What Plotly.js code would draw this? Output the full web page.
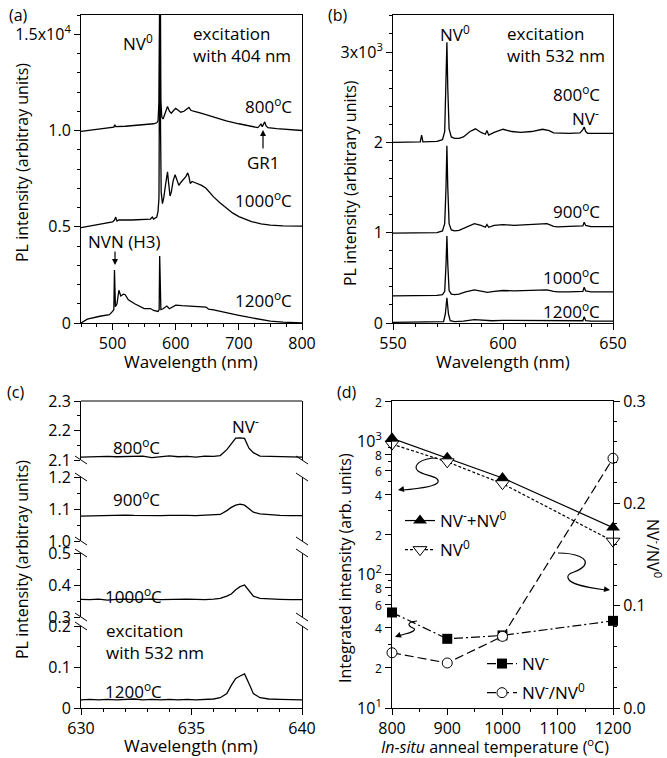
<!DOCTYPE html>
<html><head><meta charset="utf-8">
<script src="https://cdn.plot.ly/plotly-3.0.1.min.js"></script>
<style>html,body{margin:0;padding:0;background:#fff;}</style>
</head><body><div id="chart" style="width:667px;height:758px;"></div>
<script>
// ---------- Panel (a): PL spectra, 404 nm excitation (units of 1e4) ----------
const a800_x = [450,470,490,502,503.5,505,520,540,555,565,570,572,573.5,574.5,575,575.5,576.5,578,580,582,585,587,590,593,597,600,604,608,613,618,621,624,628,640,660,680,700,720,730,733,735,737,739,741,743,746,760,780,800];
const a800_y = [0.995,1.003,1.012,1.018,1.03,1.02,1.022,1.027,1.031,1.035,1.04,1.05,1.15,1.9,1.95,1.9,1.15,1.07,1.06,1.08,1.115,1.125,1.10,1.09,1.105,1.115,1.105,1.095,1.10,1.115,1.12,1.105,1.10,1.09,1.068,1.05,1.035,1.02,1.015,1.025,1.035,1.02,1.03,1.045,1.025,1.015,1.01,1.005,1.0];
const a1000_x = [450,480,500,503,505,507,510,530,560,563,565,570,572,573.5,574.5,575,576,577,579,581,584,587,589,591,593,596,599,602,605,608,612,616,619,621,623,626,630,635,641,648,652,660,670,680,690,700,710,720,735,750,770,800];
const a1000_y = [0.495,0.515,0.525,0.535,0.55,0.53,0.535,0.535,0.54,0.55,0.54,0.55,0.58,0.65,1.2,1.9,1.0,0.68,0.62,0.65,0.72,0.785,0.72,0.66,0.68,0.74,0.77,0.74,0.715,0.73,0.745,0.76,0.78,0.76,0.725,0.735,0.73,0.725,0.715,0.70,0.685,0.655,0.625,0.597,0.572,0.553,0.538,0.527,0.515,0.508,0.505,0.503];
const a1200_x = [450,460,480,495,500,502,503,503.6,504.5,507,510,513,517,520,525,535,545,550,560,565,572,573.8,574.6,575.4,576.5,580,583,586,590,595,600,610,620,630,640,648,650,652,660,670,680,700,715,730,750,770,800];
const a1200_y = [0.0,0.02,0.035,0.043,0.06,0.07,0.275,0.09,0.085,0.1,0.17,0.14,0.15,0.147,0.12,0.1,0.083,0.075,0.075,0.065,0.06,0.07,0.348,0.09,0.07,0.074,0.08,0.088,0.074,0.085,0.093,0.09,0.088,0.087,0.085,0.082,0.078,0.072,0.068,0.062,0.055,0.04,0.03,0.02,0.01,0.005,0.0];
const a_yticks = [0, 0.5, 1.0, 1.5];
const a_yticktext = ['0','0.5','1.0','1.5x10<sup>4</sup>'];

// ---------- Panel (b): PL spectra, 532 nm excitation (units of 1e3) ----------
const b800_x = [550,560,562.4,563,563.6,570,572.5,573.5,574.1,574.5,574.9,575.5,576.5,578,580,582,585,587.5,590,592,592.7,593.5,596,600,604,608,613,618,621,623,630,635,636.3,636.9,637.6,638.5,650];
const b800_y = [2.0,2.0,2.005,2.08,2.005,2.01,2.03,2.12,2.6,3.107,2.6,2.15,2.06,2.045,2.045,2.06,2.12,2.15,2.11,2.09,2.13,2.08,2.11,2.145,2.12,2.11,2.12,2.145,2.13,2.105,2.1,2.105,2.14,2.17,2.12,2.1,2.1];
const b900_x = [550,560,570,572.5,573.5,574.1,574.5,574.9,575.5,576.5,578,580,583,587,590,592,592.7,593.5,596,600,605,610,615,620,623,625,630,636.3,636.9,637.6,640,650];
const b900_y = [0.995,0.998,1.0,1.02,1.1,1.5,1.963,1.5,1.1,1.03,1.02,1.025,1.06,1.1,1.08,1.06,1.09,1.06,1.08,1.09,1.08,1.085,1.09,1.1,1.07,1.065,1.07,1.075,1.115,1.08,1.068,1.066];
const b1000_x = [550,560,570,572.5,573.5,574.1,574.5,574.9,575.5,576.5,578,580,583,587,590,592,593,596,600,605,610,615,620,623,625,630,636.3,636.9,637.6,640,650];
const b1000_y = [0.3,0.302,0.305,0.315,0.35,0.65,0.963,0.65,0.36,0.32,0.315,0.32,0.345,0.367,0.355,0.345,0.34,0.35,0.36,0.355,0.36,0.362,0.367,0.35,0.345,0.345,0.35,0.395,0.355,0.345,0.345];
const b1200_x = [550,560,570,573,573.8,574.5,575.2,576,578,582,587,590,595,600,610,620,625,630,636.3,636.9,637.6,640,650];
const b1200_y = [0.008,0.008,0.01,0.015,0.1,0.28,0.1,0.025,0.015,0.02,0.037,0.03,0.025,0.03,0.028,0.03,0.022,0.02,0.025,0.07,0.025,0.02,0.02];
const b_yticks = [0,1,2,3];
const b_yticktext = ['0','1','2','3x10<sup>3</sup>'];

// ---------- Panel (c): NV- zero-phonon line ----------
const c_wl = [630,630.4,630.8,631.2,631.6,632,632.4,632.8,633.2,633.6,634,634.4,634.8,635.2,635.6,636,636.3,636.6,636.8,637,637.2,637.4,637.6,637.8,638.1,638.5,639,639.5,640];
const c800 = [2.11,2.111,2.11,2.112,2.111,2.112,2.111,2.113,2.108,2.112,2.114,2.111,2.112,2.11,2.113,2.112,2.115,2.135,2.155,2.174,2.175,2.173,2.14,2.125,2.113,2.112,2.111,2.111,2.11];
const c900 = [1.078,1.079,1.08,1.081,1.082,1.081,1.08,1.079,1.08,1.079,1.08,1.081,1.08,1.079,1.08,1.08,1.083,1.095,1.105,1.112,1.115,1.112,1.1,1.09,1.085,1.082,1.08,1.079,1.079];
const c1000 = [0.355,0.354,0.356,0.353,0.355,0.356,0.354,0.355,0.356,0.354,0.355,0.355,0.356,0.355,0.354,0.356,0.358,0.365,0.372,0.385,0.395,0.4,0.382,0.365,0.358,0.356,0.355,0.354,0.354];
const c1200 = [0.02,0.021,0.02,0.021,0.02,0.021,0.022,0.02,0.021,0.02,0.021,0.02,0.021,0.02,0.021,0.022,0.025,0.035,0.055,0.072,0.078,0.083,0.06,0.035,0.025,0.022,0.021,0.02,0.02];
const c_seg1_ticks = [2.1,2.2,2.3], c_seg1_text = ['2.1','2.2','2.3'];
const c_seg2_ticks = [1.0,1.1,1.2], c_seg2_text = ['1.0','1.1','1.2'];
const c_seg3_ticks = [0.3,0.4,0.5], c_seg3_text = ['0.3','0.4','0.5'];
const c_seg4_ticks = [0,0.1,0.2],   c_seg4_text = ['0','0.1','0.2'];

// ---------- Panel (d): integrated intensities vs anneal temperature ----------
const temps = [800,900,1000,1200];
const nvSum = [1050,750,530,225];
const nv0 = [950,700,480,178];
const nvMinus = [52,33,35,45];
const ratio = [0.054,0.044,0.070,0.244];
const d_ytickvals = [10,20,40,60,80,100,200,400,600,800,1000,2000];
const sm = s => '<span style="font-size:12px">'+s+'</span>';
const d_ytext = ['10<sup>1</sup>',sm('2'),sm('4'),sm('6'),sm('8'),'10<sup>2</sup>',sm('2'),sm('4'),sm('6'),sm('8'),'10<sup>3</sup>',sm('2')];
const d_yminor = [30,50,70,90,300,500,700,900];

// ---------- helpers (pixel -> paper) ----------
const W = 667, H = 758;
const fx = p => p / W, fy = p => 1 - p / H;
const pth = s => s.replace(/(-?\d+\.?\d*),(-?\d+\.?\d*)/g, (m,a,b) => fx(+a).toFixed(5)+','+fy(+b).toFixed(5));
const FONT = 'Open Sans, Noto Sans, sans-serif';
const TF = 16, AF = 17;
const ln = {color:'black', width:1.3};

const traces = [];
const spec = (x,y,xa,ya) => traces.push({type:'scatter', mode:'lines', x:x, y:y, xaxis:xa, yaxis:ya, line:ln, showlegend:false, hoverinfo:'skip'});
spec(a800_x,a800_y,'x','y'); spec(a1000_x,a1000_y,'x','y'); spec(a1200_x,a1200_y,'x','y');
spec(b800_x,b800_y,'x2','y2'); spec(b900_x,b900_y,'x2','y2'); spec(b1000_x,b1000_y,'x2','y2'); spec(b1200_x,b1200_y,'x2','y2');
spec(c_wl,c1200,'x3','y3'); spec(c_wl,c1000,'x3','y4'); spec(c_wl,c900,'x3','y5'); spec(c_wl,c800,'x3','y6');

traces.push({type:'scatter', mode:'lines+markers', x:temps, y:nvSum, xaxis:'x4', yaxis:'y7', name:'NV<sup>-</sup>+NV<sup>0</sup>', legend:'legend', legendgroup:'g1',
  line:{color:'black', width:1.2}, marker:{symbol:'triangle-up', size:12, color:'black'}, cliponaxis:false});
traces.push({type:'scatter', mode:'lines+markers', x:temps, y:nv0, xaxis:'x4', yaxis:'y7', name:'NV<sup>0</sup>', legend:'legend', legendgroup:'g2',
  line:{color:'black', width:1.2, dash:'3px,2px'}, marker:{symbol:'triangle-down', size:12, color:'white', line:{color:'black', width:1}}, cliponaxis:false});
traces.push({type:'scatter', mode:'lines+markers', x:temps, y:nvMinus, xaxis:'x4', yaxis:'y7', name:'NV<sup>-</sup>', legend:'legend2', legendgroup:'g3',
  line:{color:'black', width:1.2, dash:'9px,3px,2px,3px'}, marker:{symbol:'square', size:10, color:'black'}, cliponaxis:false});
traces.push({type:'scatter', mode:'lines+markers', x:temps, y:ratio, xaxis:'x4', yaxis:'y8', name:'NV<sup>-</sup>/NV<sup>0</sup>', legend:'legend2', legendgroup:'g4',
  line:{color:'black', width:1.2, dash:'9px,4px'}, marker:{symbol:'circle', size:10, color:'white', line:{color:'black', width:1}}, cliponaxis:false});

const base = {showline:true, linecolor:'black', linewidth:1, ticks:'outside', ticklen:6, tickwidth:1, tickcolor:'black',
  showgrid:false, zeroline:false, tickfont:{family:FONT, size:TF, color:'black'}, fixedrange:true};
const mn = (d) => ({dtick:d, ticks:'outside', ticklen:3, tickwidth:1, tickcolor:'black', showgrid:false});

const layout = {
  width:W, height:H, margin:{l:0,r:0,t:0,b:0}, paper_bgcolor:'white', plot_bgcolor:'rgba(0,0,0,0)',
  font:{family:FONT, size:TF, color:'black'}, showlegend:true,
  xaxis: Object.assign({}, base, {domain:[fx(81),fx(302)], range:[450,800], dtick:100, tick0:0, minor:mn(25), anchor:'y', mirror:true}),
  yaxis: Object.assign({}, base, {domain:[fy(323),fy(15)], range:[0,1.6], tickvals:a_yticks, ticktext:a_yticktext, minor:mn(0.1), anchor:'x', mirror:true}),
  xaxis2: Object.assign({}, base, {domain:[fx(393),fx(613)], range:[550,650], dtick:50, tick0:0, minor:mn(10), anchor:'y2', mirror:true}),
  yaxis2: Object.assign({}, base, {domain:[fy(323),fy(15)], range:[0,3.41], tickvals:b_yticks, ticktext:b_yticktext, minor:mn(0.2), anchor:'x2', mirror:true}),
  xaxis3: Object.assign({}, base, {domain:[fx(81),fx(302)], range:[630,640], dtick:5, tick0:0, minor:mn(1), anchor:'y3', mirror:false}),
  yaxis3: Object.assign({}, base, {domain:[fy(708),fy(626)], range:[0,0.2], tickvals:c_seg4_ticks, ticktext:c_seg4_text, minor:mn(0.05), anchor:'x3', mirror:true}),
  yaxis4: Object.assign({}, base, {domain:[fy(617),fy(553)], range:[0.3,0.5], tickvals:c_seg3_ticks, ticktext:c_seg3_text, minor:mn(0.05), anchor:'x3', mirror:true}),
  yaxis5: Object.assign({}, base, {domain:[fy(541),fy(477)], range:[1.0,1.2], tickvals:c_seg2_ticks, ticktext:c_seg2_text, minor:mn(0.05), anchor:'x3', mirror:true}),
  yaxis6: Object.assign({}, base, {domain:[fy(460),fy(401)], range:[2.1,2.3], tickvals:c_seg1_ticks, ticktext:c_seg1_text, minor:mn(0.05), anchor:'x3', mirror:true}),
  xaxis4: Object.assign({}, base, {domain:[fx(392),fx(613)], range:[800,1200], dtick:100, tick0:0, minor:mn(50), anchor:'y7', mirror:true}),
  yaxis7: Object.assign({}, base, {domain:[fy(708),fy(401)], type:'log', range:[1,Math.log10(2000)], tickvals:d_ytickvals, ticktext:d_ytext,
     minor:{tickvals:d_yminor, ticks:'outside', ticklen:3, tickwidth:1, tickcolor:'black', showgrid:false}, anchor:'x4', mirror:false}),
  yaxis8: Object.assign({}, base, {domain:[fy(708),fy(401)], range:[0,0.3], dtick:0.1, tick0:0, tickformat:'.1f', minor:mn(0.02),
     anchor:'x4', overlaying:'y7', side:'right', mirror:false}),
  legend: {x:fx(400), y:fy(503), xanchor:'left', yanchor:'top', bgcolor:'rgba(0,0,0,0)', font:{family:FONT, size:AF, color:'black'}, tracegroupgap:4, traceorder:'grouped'},
  legend2: {x:fx(482), y:fy(646), xanchor:'left', yanchor:'top', bgcolor:'rgba(0,0,0,0)', font:{family:FONT, size:AF, color:'black'}, tracegroupgap:4, traceorder:'grouped'},
  shapes: [], annotations: []
};

// top border for broken-axis panel (c) and break marks
const S = layout.shapes;
const seg = (x0,y0,x1,y1) => S.push({type:'line', xref:'paper', yref:'paper', x0:fx(x0), y0:fy(y0), x1:fx(x1), y1:fy(y1), line:{color:'black', width:1}});
seg(81,401,302,401);
[460,477,541,553,617,626].forEach(y => { seg(75,y-4,87,y+4); seg(296,y-4,308,y+4); });

// curvy arrows in (d)
const curve = s => S.push({type:'path', xref:'paper', yref:'paper', path:pth(s), line:{color:'black', width:1.2}});
curve('M437,458 C420,458 412,466 418,471 C424,476 440,476 438,482 C436,487 415,489 402,490');
curve('M417,621 C406,622 408,626 413,628 C418,630 410,633 405,634 L398,636');
curve('M558,553 C575,553 590,558 584,566 C578,573 566,572 568,578 C570,585 590,588 606,590');

const A = layout.annotations;
const txt = (t,x,y,opt) => A.push(Object.assign({text:t, x:fx(x), y:fy(y), xref:'paper', yref:'paper', xanchor:'center', yanchor:'middle', showarrow:false, font:{family:FONT, size:AF, color:'black'}}, opt||{}));
const arr = (x,y,ax,ay) => A.push({text:'', x:fx(x), y:fy(y), xref:'paper', yref:'paper', showarrow:true, ax:ax, ay:ay, arrowhead:2, arrowsize:1, arrowwidth:1.2, arrowcolor:'black', standoff:0});
const yt = {family:FONT, size:16, color:'black'};

// panel labels
txt('(a)',18,15,{font:yt}); txt('(b)',338,15,{font:yt}); txt('(c)',15,392,{font:yt}); txt('(d)',347,392,{font:yt});
// axis titles
txt('PL intensity (arbitray units)',22,163,{textangle:-90, font:yt});
txt('PL intensity (arbitrary units)',350,183,{textangle:-90, font:yt});
txt('PL intensity (arbitray units)',22,560,{textangle:-90, font:yt});
txt('Integrated intensity (arb. units)',345,568,{textangle:-90, font:yt});
txt('NV<sup>-</sup>/NV<sup>0</sup>',654,548,{textangle:90, font:yt});
txt('Wavelength (nm)',191,361); txt('Wavelength (nm)',503,361); txt('Wavelength (nm)',191,745);
txt('<i>In-situ</i> anneal temperature (<sup>o</sup>C)',495,746,{font:{family:FONT, size:16, color:'black'}});
// (a)
txt('NV<sup>0</sup>',138,42);
txt('excitation<br>with 404 nm',191,44,{xanchor:'left', align:'left'});
txt('800<sup>o</sup>C',294,106,{xanchor:'right'});
txt('GR1',263,163);
txt('1000<sup>o</sup>C',294,199,{xanchor:'right'});
txt('NVN (H3)',124,241);
txt('1200<sup>o</sup>C',294,299,{xanchor:'right'});
arr(263,130,0,20); arr(115,265,0,-15);
// (b)
txt('NV<sup>0</sup>',455,33);
txt('excitation<br>with 532 nm',505,44,{xanchor:'left', align:'left'});
txt('800<sup>o</sup>C',602,94,{xanchor:'right'});
txt('NV<sup>-</sup>',585,117);
txt('900<sup>o</sup>C',602,210,{xanchor:'right'});
txt('1000<sup>o</sup>C',602,276,{xanchor:'right'});
txt('1200<sup>o</sup>C',602,310,{xanchor:'right'});
// (c)
txt('NV<sup>-</sup>',245,425);
txt('800<sup>o</sup>C',136,446);
txt('900<sup>o</sup>C',136,498);
txt('1000<sup>o</sup>C',133,595);
txt('excitation<br>with 532 nm',104,641,{xanchor:'left', align:'left'});
txt('1200<sup>o</sup>C',133,690);
// arrowheads of curvy arrows (d)
arr(398,490,6,-1); arr(395,637,5,-2); arr(610,590,-7,-1);

Plotly.newPlot('chart', traces, layout, {staticPlot:true, displayModeBar:false});
</script></body></html>
